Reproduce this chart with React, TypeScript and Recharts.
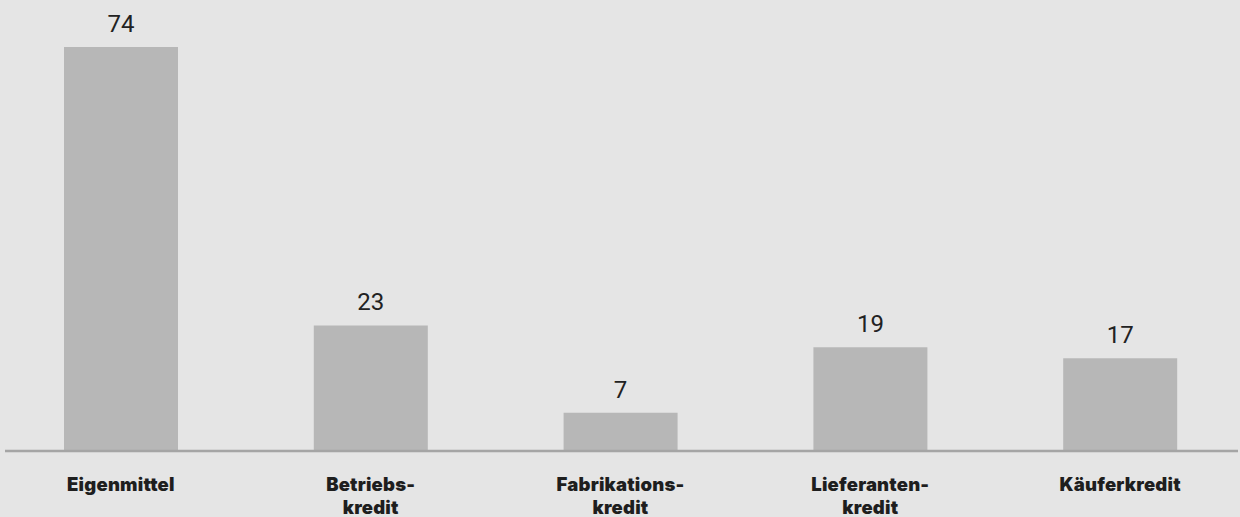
import React from 'react';
import { BarChart, Bar, XAxis, YAxis, LabelList } from 'recharts';

// Finanzierungsquellen, Anteil in Prozent
const categories = ['Eigenmittel', 'Betriebs-\nkredit', 'Fabrikations-\nkredit', 'Lieferanten-\nkredit', 'Käuferkredit'];
const shares = [74, 23, 7, 19, 17];

const data = categories.map((name, i) => ({ name, value: shares[i] }));

const CategoryTick = (props: any) => {
  const { x, y, payload } = props;
  const lines = String(payload.value).split('\n');
  return (
    <text
      x={x}
      y={y}
      textAnchor="middle"
      fill="#1e1e1e"
      fontFamily="Inter, 'Noto Sans', sans-serif"
      fontWeight={900}
      fontSize={18.5}
      letterSpacing={0.2}
    >
      {lines.map((line, i) => (
        <tspan key={i} x={x} dy={i === 0 ? 40 : 23}>
          {line}
        </tspan>
      ))}
    </text>
  );
};

const App: React.FC = () => {
  return (
    <div style={{ position: 'absolute', left: 0, top: 0, width: 1240, height: 517, background: '#e5e5e5', overflow: 'hidden' }}>
      <BarChart
        width={1240}
        height={517}
        data={data}
        margin={{ top: 47, right: 2, left: 5, bottom: 0 }}
        barSize={114}
      >
        <YAxis hide domain={[0, 74]} />
        <Bar dataKey="value" fill="#b7b7b7" isAnimationActive={false}>
          <LabelList
            dataKey="value"
            position="top"
            offset={15}
            fill="#222222"
            fontSize={24}
            fontFamily="Roboto, 'Liberation Sans', sans-serif"
          />
        </Bar>
        <XAxis
          dataKey="name"
          height={66}
          padding={{ left: -9, right: -7 }}
          axisLine={{ stroke: '#a5a5a5', strokeWidth: 2.5 }}
          tickLine={false}
          tickSize={0}
          tickMargin={0}
          interval={0}
          tick={<CategoryTick />}
        />
      </BarChart>
    </div>
  );
};

export default App;
